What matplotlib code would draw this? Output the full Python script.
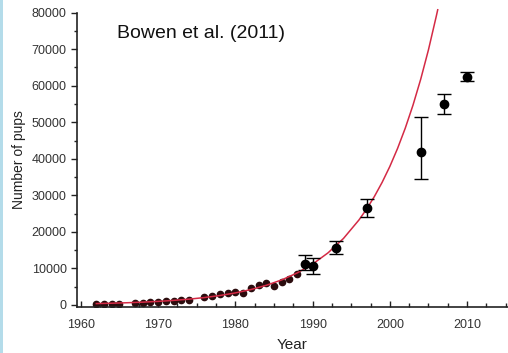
import matplotlib
matplotlib.use("Agg")
import matplotlib.pyplot as plt
from matplotlib.patches import Rectangle
from matplotlib.ticker import MultipleLocator

plt.rcParams['font.family'] = ['Liberation Sans', 'DejaVu Sans']

# Pup counts (small dots, no error bars)
count_years = [1962, 1963, 1964, 1965, 1967, 1968, 1969, 1970, 1971, 1972, 1973, 1974,
               1976, 1977, 1978, 1979, 1980, 1981, 1982, 1983, 1984, 1985, 1986, 1987, 1988]
count_pups = [200, 300, 350, 200, 400, 650, 900, 850, 1100, 950, 1300, 1250,
              2300, 2500, 2900, 3200, 3600, 3300, 4700, 5400, 6000, 5300, 6200, 7100, 8600]

# Survey estimates with error bars
survey_years = [1989, 1990, 1993, 1997, 2004, 2007, 2010]
survey_pups = [11200, 10700, 15700, 26500, 41800, 55000, 62500]
survey_low = [9600, 8500, 14000, 24200, 34400, 52300, 61200]
survey_high = [13700, 12800, 17500, 28900, 51400, 57700, 63900]

# Fitted growth curve
fit_years = [1962, 1964, 1966, 1968, 1970, 1972, 1974, 1976, 1978, 1980, 1982, 1984,
             1986, 1988, 1990, 1992, 1994, 1996, 1997, 1998, 1999, 2000, 2001, 2002,
             2003, 2004, 2005, 2006, 2006.2]
fit_pups = [370, 470, 600, 760, 970, 1240, 1580, 2020, 2580, 3290, 4200, 5370,
            6850, 8750, 11170, 14260, 18200, 23250, 26270, 29680, 33540, 37900, 42830, 48400,
            54690, 61800, 69830, 78900, 80800]

fig = plt.figure(figsize=(5.08, 3.53), dpi=100)
fig.patches.append(Rectangle((0, 0), 3 / 508, 1, transform=fig.transFigure,
                             facecolor='#b4dcea', edgecolor='none'))

ax = fig.add_axes([77 / 508, 0.131, 431 / 508, 0.833])

ax.plot(count_years, count_pups, 'o', color='#2b0c0e', markersize=4.5, zorder=2)
ax.plot(fit_years, fit_pups, color='#d42a45', linewidth=1.1, zorder=3, clip_on=False)

err = [[p - lo for p, lo in zip(survey_pups, survey_low)],
       [hi - p for p, hi in zip(survey_pups, survey_high)]]
ax.errorbar(survey_years, survey_pups, yerr=err, fmt='o', color='black',
            markersize=6, elinewidth=1, capsize=5, capthick=1, zorder=4)

ax.set_xlim(1959.5, 2015.3)
ax.set_ylim(-500, 80000)
ax.set_xticks([1960, 1970, 1980, 1990, 2000, 2010])
ax.set_yticks(range(0, 80001, 10000))
ax.xaxis.set_minor_locator(MultipleLocator(2.5))
ax.yaxis.set_minor_locator(MultipleLocator(5000))

for side in ('top', 'right'):
    ax.spines[side].set_visible(False)
for side in ('left', 'bottom'):
    ax.spines[side].set_linewidth(1.2)
    ax.spines[side].set_color('#222222')

ax.tick_params(axis='y', which='major', direction='out', length=4, width=1,
               labelsize=9, labelcolor='#333333', color='#222222')
ax.tick_params(axis='y', which='minor', direction='out', length=2, width=1, color='#222222')
ax.tick_params(axis='x', which='major', direction='in', length=4, width=1,
               labelsize=9, labelcolor='#333333', color='#222222', pad=9)
ax.tick_params(axis='x', which='minor', direction='in', length=3, width=1, color='#222222')

ax.set_xlabel('Year', fontsize=11, color='#222222', labelpad=5)
ax.set_ylabel('Number of pups', fontsize=10, color='#222222', labelpad=4)

fig.text(117 / 508, 1 - 33 / 353, 'Bowen et al. (2011)', fontsize=14,
         color='#111111', ha='left', va='center')

fig.savefig('out.png', dpi=100)
